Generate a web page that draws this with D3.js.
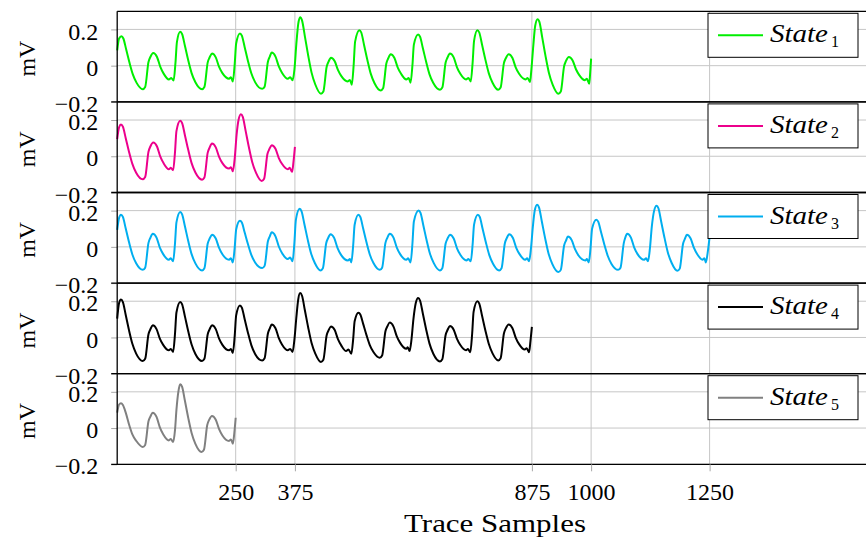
<!DOCTYPE html>
<html>
<head>
<meta charset="utf-8">
<script src="https://cdn.jsdelivr.net/npm/d3@7"></script>
<style>
  body { margin: 0; background: #fff; }
  svg text { font-family: "Liberation Serif", "DejaVu Serif", "Times New Roman", serif; fill: #000; }
</style>
</head>
<body>
<script>
// trace samples vs mV (key points of each beat)
var state1 = [
  [0,0.085],[4,0.15],[9,0.162],
  [13,0.150],[19,0.089],[26,0.016],[33,-0.048],[41,-0.095],[54,-0.13],
  [59,-0.118],[66,0.02],[70,0.048],[76,0.07],
  [84,0.048],[91,-0.007],[98,-0.044],[109,-0.076],[114,-0.068],[119,-0.082],
  [123,0.018],[126,0.13],[133,0.187],
  [137,0.174],[143,0.108],[150,0.028],[157,-0.041],[165,-0.092],[179,-0.13],
  [184,-0.118],[191,0.018],[195,0.045],[200,0.067],
  [208,0.046],[215,-0.007],[222,-0.041],[236,-0.072],[240,-0.064],[244,-0.087],
  [248,0.011],[251,0.122],[259,0.178],
  [263,0.166],[269,0.102],[276,0.025],[283,-0.042],[291,-0.091],[306,-0.128],
  [311,-0.116],[318,0.022],[322,0.05],[326,0.072],
  [334,0.05],[341,-0.004],[348,-0.04],[360,-0.072],[365,-0.064],[370,-0.08],
  [374,-0.02],[378,0.12],[382,0.23],[386,0.267],
  [390,0.25],[396,0.162],[403,0.056],[410,-0.037],[418,-0.104],[430,-0.155],
  [435,-0.143],[442,-0.006],[446,0.022],[451,0.044],
  [459,0.024],[466,-0.025],[473,-0.058],[486,-0.087],[491,-0.079],[495,-0.105],
  [499,0.006],[502,0.133],[511,0.196],
  [515,0.183],[521,0.113],[528,0.03],[535,-0.044],[543,-0.097],[556,-0.137],
  [561,-0.125],[568,0.013],[572,0.041],[577,0.063],
  [585,0.042],[592,-0.011],[599,-0.045],[610,-0.076],[615,-0.068],[619,-0.094],
  [623,0.004],[626,0.116],[635,0.172],
  [639,0.16],[645,0.096],[652,0.02],[659,-0.048],[667,-0.096],[681,-0.133],
  [686,-0.121],[693,0.017],[697,0.045],[702,0.067],
  [710,0.046],[717,-0.009],[724,-0.045],[736,-0.076],[741,-0.068],[746,-0.087],
  [750,0.018],[753,0.137],[760,0.196],
  [764,0.183],[770,0.114],[777,0.032],[784,-0.041],[792,-0.094],[804,-0.133],
  [809,-0.121],[816,0.014],[820,0.041],[826,0.063],
  [834,0.042],[841,-0.011],[848,-0.045],[862,-0.076],[866,-0.068],[871,-0.09],
  [874,-0.02],[878,0.11],[882,0.22],[887,0.256],
  [891,0.24],[897,0.153],[904,0.05],[911,-0.04],[919,-0.106],[931,-0.155],
  [936,-0.143],[943,-0.003],[947,0.026],[953,0.048],
  [961,0.029],[968,-0.02],[975,-0.052],[987,-0.08],[991,-0.072],[996,-0.1],
  [998,-0.04],[1000,0.039]
];

var state2 = [
  [0,0.094],[4,0.16],[8,0.175],
  [12,0.163],[18,0.1],[25,0.024],[32,-0.042],[40,-0.091],[54,-0.127],
  [59,-0.115],[66,0.025],[70,0.054],[76,0.076],
  [84,0.054],[91,-0.002],[98,-0.039],[109,-0.072],[113,-0.064],[118,-0.077],
  [122,0.024],[125,0.139],[133,0.196],
  [137,0.183],[143,0.115],[150,0.034],[157,-0.038],[165,-0.09],[179,-0.129],
  [184,-0.117],[191,0.02],[195,0.048],[200,0.07],
  [208,0.049],[215,-0.003],[222,-0.038],[236,-0.068],[240,-0.06],[244,-0.083],
  [248,-0.01],[252,0.12],[256,0.2],[261,0.232],
  [265,0.217],[271,0.14],[278,0.048],[285,-0.033],[293,-0.092],[305,-0.136],
  [310,-0.124],[317,0.012],[321,0.039],[326,0.061],
  [334,0.041],[341,-0.01],[348,-0.043],[360,-0.072],[364,-0.064],[369,-0.086],
  [372,-0.03],[375,0.052]
];

var state3 = [
  [0,0.094],[4,0.16],[8,0.177],
  [12,0.165],[18,0.101],[25,0.025],[32,-0.042],[40,-0.091],[54,-0.127],
  [59,-0.115],[66,0.022],[70,0.05],[75,0.072],
  [83,0.051],[90,-0.004],[97,-0.04],[109,-0.071],[113,-0.063],[118,-0.08],
  [122,0.021],[125,0.135],[133,0.192],
  [137,0.179],[143,0.112],[150,0.031],[157,-0.04],[165,-0.091],[179,-0.13],
  [184,-0.118],[191,0.018],[195,0.045],[200,0.067],
  [208,0.046],[215,-0.006],[222,-0.041],[236,-0.071],[240,-0.063],[244,-0.086],
  [248,-0.001],[251,0.096],[259,0.144],
  [263,0.134],[269,0.079],[276,0.014],[283,-0.044],[291,-0.086],[306,-0.117],
  [311,-0.105],[318,0.031],[322,0.058],[326,0.08],
  [334,0.058],[341,0.002],[348,-0.035],[360,-0.067],[365,-0.059],[370,-0.08],
  [374,0.027],[377,0.149],[385,0.21],
  [389,0.196],[395,0.125],[402,0.04],[409,-0.035],[417,-0.089],[429,-0.13],
  [434,-0.118],[441,0.02],[445,0.048],[450,0.07],
  [458,0.048],[465,-0.007],[472,-0.043],[487,-0.075],[491,-0.067],[494,-0.086],
  [498,0.011],[501,0.122],[509,0.177],
  [513,0.165],[519,0.101],[526,0.025],[533,-0.042],[541,-0.091],[554,-0.127],
  [559,-0.115],[566,0.022],[570,0.05],[575,0.072],
  [583,0.051],[590,-0.004],[597,-0.04],[610,-0.071],[614,-0.063],[619,-0.086],
  [623,0.02],[626,0.14],[636,0.2],
  [640,0.187],[646,0.118],[653,0.035],[660,-0.038],[668,-0.09],[681,-0.13],
  [686,-0.118],[693,0.018],[697,0.045],[702,0.067],
  [710,0.046],[717,-0.008],[724,-0.044],[737,-0.075],[741,-0.067],[746,-0.08],
  [750,0.015],[753,0.123],[761,0.177],
  [765,0.165],[771,0.1],[778,0.024],[785,-0.044],[793,-0.093],[806,-0.13],
  [811,-0.118],[818,0.02],[822,0.048],[827,0.07],
  [835,0.049],[842,-0.005],[849,-0.04],[861,-0.071],[865,-0.063],[869,-0.08],
  [873,-0.01],[877,0.11],[881,0.2],[886,0.233],
  [890,0.218],[896,0.14],[903,0.047],[910,-0.035],[918,-0.094],[931,-0.139],
  [936,-0.127],[943,0.008],[947,0.035],[951,0.057],
  [959,0.037],[966,-0.013],[973,-0.046],[988,-0.075],[991,-0.067],[995,-0.086],
  [999,0.001],[1002,0.1],[1011,0.15],
  [1015,0.139],[1021,0.081],[1028,0.012],[1035,-0.049],[1043,-0.094],[1057,-0.127],
  [1062,-0.115],[1069,0.022],[1072,0.05],[1076,0.072],
  [1084,0.051],[1091,-0.004],[1098,-0.04],[1112,-0.071],[1116,-0.063],[1120,-0.08],
  [1124,-0.01],[1128,0.11],[1133,0.2],[1138,0.227],
  [1142,0.213],[1148,0.137],[1155,0.048],[1162,-0.032],[1170,-0.089],[1182,-0.132],
  [1187,-0.12],[1194,0.017],[1198,0.045],[1202,0.067],
  [1210,0.046],[1217,-0.006],[1224,-0.041],[1235,-0.071],[1239,-0.063],[1242,-0.086],
  [1246,-0.03],[1250,0.057]
];

var state4 = [
  [0,0.104],[4,0.19],[8,0.209],
  [12,0.195],[18,0.124],[25,0.039],[32,-0.035],[40,-0.089],[54,-0.13],
  [59,-0.118],[66,0.018],[70,0.045],[75,0.067],
  [83,0.046],[90,-0.006],[97,-0.041],[109,-0.071],[113,-0.063],[118,-0.08],
  [122,0.022],[125,0.138],[133,0.196],
  [137,0.183],[143,0.115],[150,0.033],[157,-0.039],[165,-0.091],[179,-0.13],
  [184,-0.118],[191,0.018],[195,0.045],[200,0.067],
  [208,0.046],[215,-0.006],[222,-0.041],[236,-0.071],[240,-0.063],[244,-0.086],
  [248,0.011],[251,0.122],[259,0.177],
  [263,0.165],[269,0.101],[276,0.025],[283,-0.042],[291,-0.091],[306,-0.127],
  [311,-0.115],[318,0.022],[322,0.05],[326,0.072],
  [334,0.051],[341,-0.004],[348,-0.04],[360,-0.071],[365,-0.063],[370,-0.08],
  [374,-0.01],[378,0.11],[382,0.21],[386,0.245],
  [390,0.23],[396,0.15],[403,0.055],[410,-0.029],[418,-0.089],[430,-0.135],
  [435,-0.123],[442,0.012],[446,0.039],[451,0.061],
  [459,0.041],[466,-0.011],[473,-0.045],[483,-0.075],[488,-0.067],[494,-0.09],
  [498,-0.006],[501,0.089],[509,0.137],
  [513,0.127],[519,0.075],[526,0.013],[533,-0.042],[541,-0.082],[554,-0.112],
  [559,-0.1],[566,0.034],[570,0.061],[575,0.082],
  [583,0.06],[590,0.006],[597,-0.03],[610,-0.062],[613,-0.054],[617,-0.075],
  [621,-0.01],[625,0.1],[630,0.19],[635,0.218],
  [639,0.204],[645,0.131],[652,0.043],[659,-0.034],[667,-0.09],[681,-0.132],
  [686,-0.12],[693,0.014],[697,0.041],[702,0.063],
  [710,0.043],[717,-0.008],[724,-0.042],[736,-0.071],[740,-0.063],[745,-0.082],
  [749,0.022],[752,0.141],[760,0.2],
  [764,0.187],[770,0.118],[777,0.037],[784,-0.035],[792,-0.088],[804,-0.127],
  [809,-0.115],[816,0.022],[820,0.05],[826,0.072],
  [834,0.051],[841,-0.002],[848,-0.037],[860,-0.067],[864,-0.059],[869,-0.082],
  [872,-0.02],[875,0.058]
];

var state5 = [
  [0,0.085],[4,0.13],[8,0.137],
  [12,0.127],[18,0.085],[25,0.02],[32,-0.035],[40,-0.07],[54,-0.104],
  [59,-0.093],[66,0.037],[70,0.063],[75,0.085],
  [83,0.062],[90,0.004],[97,-0.034],[109,-0.068],[113,-0.06],[118,-0.077],
  [122,-0.01],[125,0.1],[129,0.2],[133,0.242],
  [137,0.227],[143,0.149],[150,0.055],[157,-0.027],[165,-0.087],[178,-0.132],
  [183,-0.12],[190,0.017],[194,0.045],[200,0.067],
  [208,0.046],[215,-0.006],[222,-0.041],[236,-0.071],[240,-0.063],[244,-0.086],
  [247,-0.03],[250,0.057]
];

var traces = [state1, state2, state3, state4, state5];
var stateIndex = ['1', '2', '3', '4', '5'];
var stateColors = ['#00ee00', '#ec008c', '#00aeef', '#000000', '#808080'];
var xTicks = [250, 375, 875, 1000, 1250];
var yTicks = [-0.2, 0, 0.2];

var W = 867, H = 548;
var left = 117.2, right = 866;
var top0 = 11.3, panelH = 90.6;
var bottom = top0 + panelH * 5;
var serif = '"Liberation Serif", "DejaVu Serif", "Times New Roman", serif';

var svg = d3.select('body').append('svg')
  .attr('width', W)
  .attr('height', H)
  .attr('font-family', serif);

var x = d3.scaleLinear().domain([0, 1580]).range([left, right]);

var gridColor = '#c6c6c6';
var fmtY = function(d) { return d === 0 ? '0' : d3.format('.1f')(d); };

var line = d3.line()
  .x(function(d) { return x(d[0]); })
  .curve(d3.curveMonotoneX);

// vertical grid, all panels
svg.selectAll('line.vgrid')
  .data(xTicks)
  .enter().append('line')
    .attr('class', 'vgrid')
    .attr('x1', function(d) { return x(d); })
    .attr('x2', function(d) { return x(d); })
    .attr('y1', top0)
    .attr('y2', bottom)
    .attr('stroke', gridColor)
    .attr('stroke-width', 1);

traces.forEach(function(trace, i) {
  var pTop = top0 + i * panelH;
  var y = d3.scaleLinear().domain([-0.2, 0.3]).range([pTop + panelH, pTop]);
  var g = svg.append('g');

  // horizontal grid
  g.selectAll('line.hgrid')
    .data(yTicks)
    .enter().append('line')
      .attr('x1', left)
      .attr('x2', right)
      .attr('y1', function(d) { return y(d); })
      .attr('y2', function(d) { return y(d); })
      .attr('stroke', gridColor)
      .attr('stroke-width', 1);

  // y axis ticks + labels
  var ax = g.append('g')
    .attr('transform', 'translate(' + left + ',0)')
    .call(d3.axisLeft(y).tickValues(yTicks).tickSize(6).tickPadding(13).tickFormat(fmtY));
  ax.attr('font-family', serif).attr('font-size', 24);
  ax.select('.domain').remove();
  ax.selectAll('line').attr('stroke', '#a8a8a8');
  ax.selectAll('text').attr('dy', '0.4em');

  // y label
  g.append('text')
    .attr('transform', 'translate(35,' + (pTop + panelH / 2 + 2) + ') rotate(-90)')
    .attr('text-anchor', 'middle')
    .attr('font-size', 24)
    .text('mV');

  // the trace
  line.y(function(d) { return y(d[1]); });
  g.append('path')
    .datum(trace)
    .attr('d', line)
    .attr('fill', 'none')
    .attr('stroke', stateColors[i])
    .attr('stroke-width', 2)
    .attr('stroke-linejoin', 'round');

  // frame: left + top + bottom
  g.append('line')
    .attr('x1', left).attr('x2', right)
    .attr('y1', pTop).attr('y2', pTop)
    .attr('stroke', '#000').attr('stroke-width', 1.3);
  g.append('line')
    .attr('x1', left - 6).attr('x2', right)
    .attr('y1', pTop + panelH).attr('y2', pTop + panelH)
    .attr('stroke', '#000').attr('stroke-width', 1.3);
  g.append('line')
    .attr('x1', left).attr('x2', left)
    .attr('y1', pTop).attr('y2', pTop + panelH)
    .attr('stroke', '#000').attr('stroke-width', 1.3);

  // legend
  var lg = g.append('g').attr('transform', 'translate(708,' + (pTop + 2) + ')');
  lg.append('rect')
    .attr('width', 150).attr('height', 44)
    .attr('fill', '#fff').attr('stroke', '#000').attr('stroke-width', 1);
  lg.append('line')
    .attr('x1', 10).attr('x2', 55).attr('y1', 22).attr('y2', 22)
    .attr('stroke', stateColors[i]).attr('stroke-width', 2);
  lg.append('text')
    .attr('x', 62).attr('y', 29)
    .attr('textLength', 58).attr('lengthAdjust', 'spacingAndGlyphs')
    .attr('font-size', 25).attr('font-style', 'italic')
    .text('State');
  lg.append('text')
    .attr('x', 123).attr('y', 34)
    .attr('font-size', 16)
    .text(stateIndex[i]);
});

// x axis
var xa = svg.append('g')
  .attr('transform', 'translate(0,' + bottom + ')')
  .call(d3.axisBottom(x).tickValues(xTicks).tickSize(7).tickPadding(12).tickFormat(d3.format('d')));
xa.attr('font-family', serif).attr('font-size', 24);
xa.select('.domain').remove();
xa.selectAll('line').attr('stroke', '#a8a8a8');

svg.append('text')
  .attr('x', 495).attr('y', 532)
  .attr('text-anchor', 'middle')
  .attr('textLength', 182).attr('lengthAdjust', 'spacingAndGlyphs')
  .attr('font-size', 25)
  .text('Trace Samples');
</script>
</body>
</html>
